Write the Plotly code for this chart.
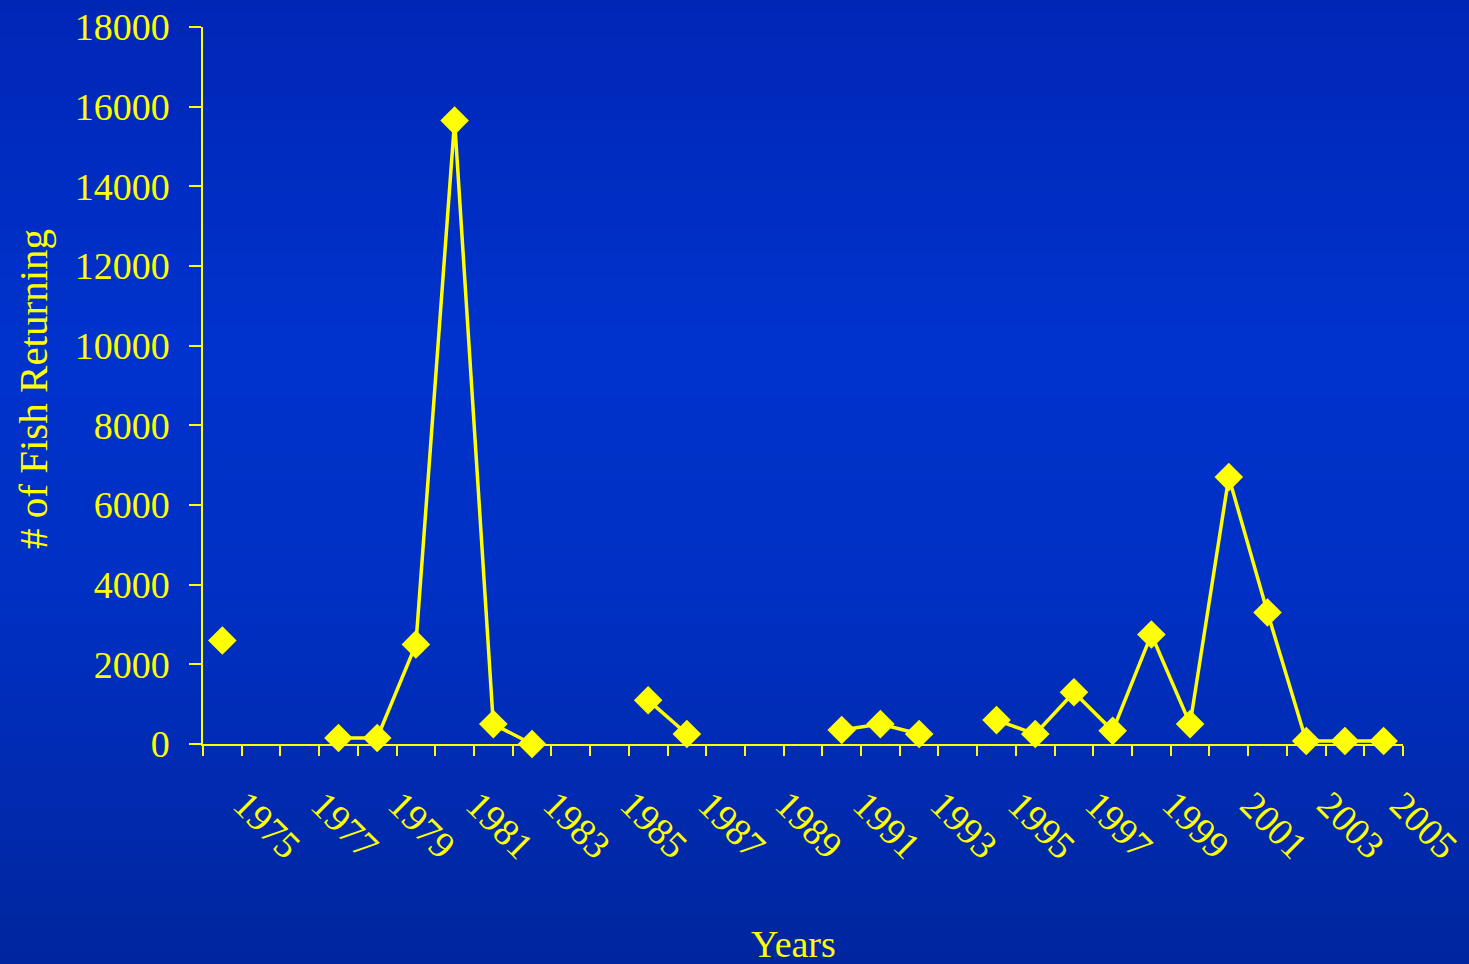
import plotly.graph_objects as go

years = list(range(1975, 2006))
fish = [2600, None, None, 150, 150, 2500, 15650, 500, 0, None, None, 1100, 250,
        None, None, None, 350, 500, 250, None, 600, 250, 1300, 330, 2750, 500,
        6700, 3300, 75, 75, 75]
label_years = list(range(1975, 2006, 2))
y_ticks = list(range(0, 18001, 2000))

YEL = "#ffff00"
FONT = "Liberation Serif"
W, H = 1469, 964
L, R, T, B = 203, 66, 27, 220
pw, ph = W - L - R, H - T - B

fig = go.Figure()
fig.add_trace(go.Scatter(
    x=years, y=fish, mode="lines+markers", connectgaps=False,
    line=dict(color=YEL, width=3.5),
    marker=dict(symbol="diamond", size=22, color=YEL),
    cliponaxis=False, showlegend=False))

# gradient background bands
def col(py):
    stops = [(0, (0, 38, 182)), (350, (0, 51, 205)), (600, (0, 48, 195)), (964, (0, 38, 158))]
    for (a, ca), (b, cb) in zip(stops, stops[1:]):
        if a <= py <= b:
            t = (py - a) / (b - a)
            return "rgb(%d,%d,%d)" % tuple(round(ca[i] + (cb[i] - ca[i]) * t) for i in range(3))
    return "rgb(0,38,158)"

shapes = []
n = 80
for i in range(n):
    py0 = H * i / n
    py1 = H * (i + 1) / n
    shapes.append(dict(type="rect", xref="paper", yref="paper", layer="below",
                       x0=(0 - L) / pw, x1=(W - L) / pw,
                       y0=(H - B - py1) / ph - 0.001, y1=(H - B - py0) / ph + 0.001,
                       fillcolor=col((py0 + py1) / 2), line=dict(width=0)))

annotations = [
    dict(text="Years", xref="paper", yref="paper", x=(793 - L) / pw,
         y=(H - B - 944) / ph, xanchor="center", yanchor="middle", showarrow=False,
         font=dict(family=FONT, size=38, color=YEL)),
    dict(text="# of Fish Returning", xref="paper", yref="paper", x=(33 - L) / pw,
         y=(H - B - 389) / ph, xanchor="center", yanchor="middle", textangle=-90,
         showarrow=False, font=dict(family=FONT, size=41, color=YEL)),
]
for yr in label_years:
    annotations.append(dict(text=str(yr), x=yr, y=0, xref="x", yref="y",
                            xanchor="center", yanchor="middle",
                            xshift=45 if yr < 2005 else 40, yshift=-81,
                            textangle=45, showarrow=False,
                            font=dict(family=FONT, size=38, color=YEL)))

fig.update_layout(
    width=W, height=H,
    margin=dict(l=L, r=R, t=T, b=B),
    paper_bgcolor="rgb(0,45,190)", plot_bgcolor="rgba(0,0,0,0)",
    shapes=shapes,
    font=dict(family=FONT, color=YEL, size=38),
    xaxis=dict(range=[1974.5, 2005.5], tickmode="array", tickvals=label_years,
               showticklabels=False, automargin=False,
               ticks="", showline=True, linecolor=YEL, linewidth=1.5,
               showgrid=False, zeroline=False,
               minor=dict(tickmode="linear", tick0=1974.5, dtick=1, ticks="outside",
                          ticklen=10, tickwidth=1.5, tickcolor=YEL, showgrid=False)),
    yaxis=dict(range=[0, 18000], tickmode="array", tickvals=y_ticks,
               ticktext=[str(v) for v in y_ticks], ticklabelstandoff=12,
               automargin=False,
               ticks="outside", ticklen=12, tickwidth=1.5, tickcolor=YEL,
               showline=True, linecolor=YEL, linewidth=1.5, showgrid=False,
               zeroline=False, tickfont=dict(family=FONT, size=38, color=YEL)),
    annotations=annotations,
)
fig.write_html("out.html")
